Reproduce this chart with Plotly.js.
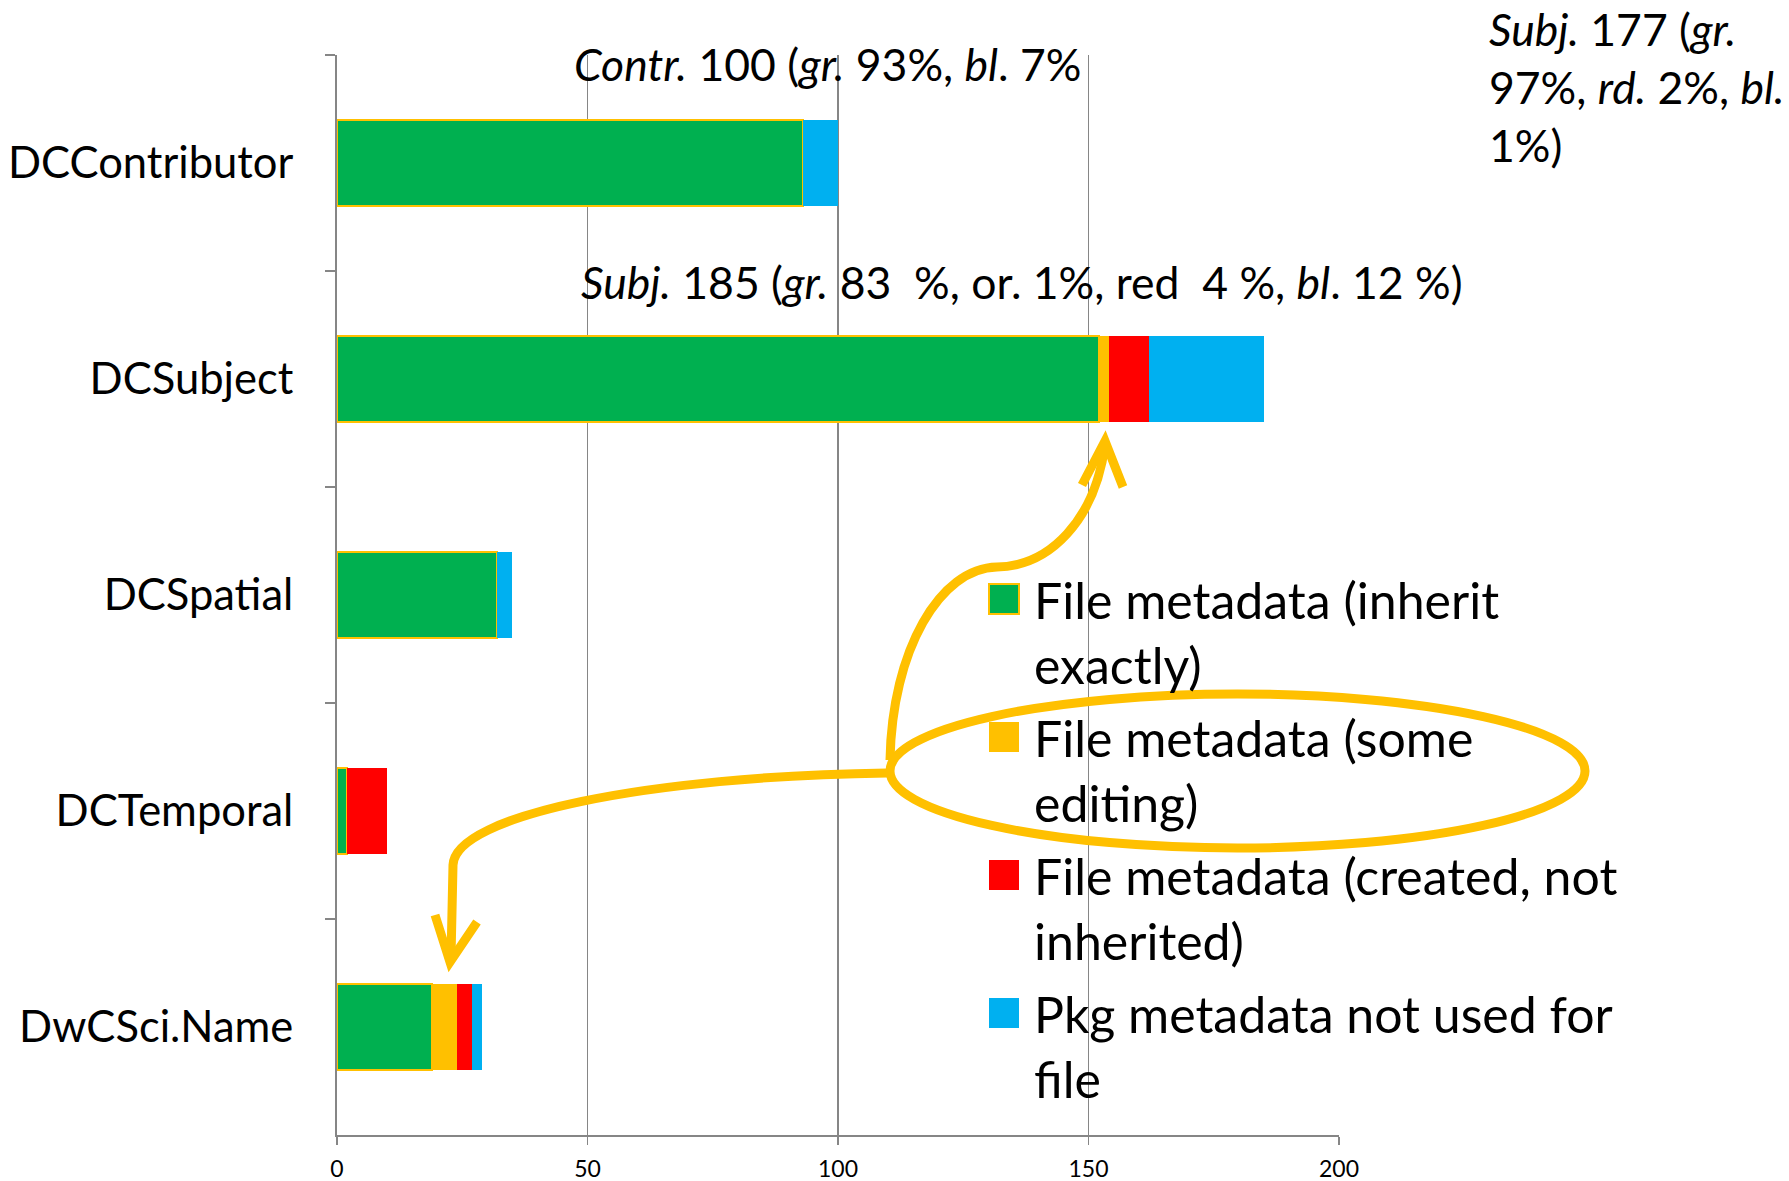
<!DOCTYPE html>
<html><head><meta charset="utf-8">
<script src="https://cdn.plot.ly/plotly-3.0.1.min.js"></script>
<style>html,body{margin:0;padding:0;background:#fff}</style>
</head><body>
<div id="chart" style="width:1789px;height:1181px"></div>
<script>
// ---- data ----
const categories = ['DCContributor', 'DCSubject', 'DCSpatial', 'DCTemporal', 'DwCSci.Name'];
const inheritExactly = [93, 152, 32, 2, 19];
const someEditing = [0, 2, 0, 0, 5];
const createdNotInherited = [0, 8, 0, 8, 3];
const pkgNotUsed = [7, 23, 3, 0, 2];
const seriesNames = [
  'File metadata (inherit<br>exactly)',
  'File metadata (some<br>editing)',
  'File metadata (created, not<br>inherited)',
  'Pkg metadata not used for<br>file'
];
const seriesColors = ['#00B050', '#FFC000', '#FF0000', '#00B0F0'];
const xTickVals = [0, 50, 100, 150, 200];
const noteContr = '<i>Contr.</i> 100 (<i>gr.</i> 93%, <i>bl</i>. 7%';
const noteSubj185 = '<i>Subj.</i> 185 (<i>gr.</i> 83  %, or. 1%, red  4 %, <i>bl</i>. 12 %)';
const noteSubj177 = '<i>Subj.</i> 177 (<i>gr.</i><br>97%, <i>rd.</i> 2%, <i>bl.</i><br>1%)';

// ---- geometry helpers ----
const W = 1789, H = 1181, L = 337, R = 450, T = 55, B = 46;
const pw = W - L - R, ph = H - T - B;
const px = x => ((x - L) / pw);
const py = y => ((H - B - y) / ph);
function path(cmds) {
  return cmds.map(c => c[0] + ' ' + c.slice(1).map((v, i) => (i % 2 === 0 ? px(v) : py(v)).toFixed(5)).join(',')).join(' ');
}

const FONT = 'Lato, "Open Sans", sans-serif';
const seriesValues = [inheritExactly, someEditing, createdNotInherited, pkgNotUsed];

const traces = seriesValues.map((vals, i) => ({
  type: 'bar',
  orientation: 'h',
  name: seriesNames[i],
  legendgroup: 'g' + i,
  y: categories,
  x: vals,
  marker: {
    color: seriesColors[i],
    line: i === 0 ? {color: '#FFC000', width: 2} : {color: seriesColors[i], width: 0}
  },
  hoverinfo: 'none'
}));

const gold = '#FFC000';
const lw = 9;
const shapes = [
  {type: 'circle', xref: 'paper', yref: 'paper', x0: px(890), x1: px(1585), y0: py(848), y1: py(694),
   line: {color: gold, width: lw}},
  {type: 'path', xref: 'paper', yref: 'paper',
   path: path([['M', 890, 760], ['C', 892, 650, 940, 568, 997, 567], ['C', 1050, 566, 1095, 520, 1105, 445]]),
   line: {color: gold, width: lw}},
  {type: 'path', xref: 'paper', yref: 'paper',
   path: path([['M', 1082, 485], ['L', 1105, 441], ['L', 1123, 487]]),
   line: {color: gold, width: lw}},
  {type: 'path', xref: 'paper', yref: 'paper',
   path: path([['M', 887, 773], ['C', 650, 776, 455, 815, 453, 865], ['L', 451, 958]]),
   line: {color: gold, width: lw}},
  {type: 'path', xref: 'paper', yref: 'paper',
   path: path([['M', 435, 915], ['L', 450, 962], ['L', 477, 922]]),
   line: {color: gold, width: lw}}
];

const annoFont = {family: FONT, size: 44.5, color: '#000'};
const annotations = [
  {xref: 'paper', yref: 'paper', x: px(572), y: py(64), xanchor: 'left', yanchor: 'middle',
   text: noteContr, showarrow: false, font: annoFont},
  {xref: 'paper', yref: 'paper', x: px(579), y: py(281), xanchor: 'left', yanchor: 'middle',
   text: noteSubj185, showarrow: false, font: annoFont},
  {xref: 'paper', yref: 'paper', x: px(1487), y: py(0), xanchor: 'left', yanchor: 'top', align: 'left',
   text: noteSubj177, showarrow: false, font: annoFont}
];

const layout = {
  width: W, height: H,
  margin: {l: L, r: R, t: T, b: B},
  paper_bgcolor: '#fff', plot_bgcolor: '#fff',
  barmode: 'stack',
  bargap: 0.6,
  showlegend: true,
  legend: {
    x: px(974), y: py(560), xanchor: 'left', yanchor: 'top',
    font: {family: FONT, size: 50, color: '#000'},
    bgcolor: 'rgba(0,0,0,0)', borderwidth: 0,
    traceorder: 'grouped', valign: 'top', tracegroupgap: 5, itemwidth: 50
  },
  xaxis: {
    range: [0, 200], tickvals: xTickVals, ticktext: xTickVals.map(String),
    showgrid: true, gridcolor: '#868686', gridwidth: 1.5,
    showline: true, linecolor: '#868686', linewidth: 2,
    ticks: 'outside', ticklen: 8, tickcolor: '#868686', tickwidth: 1.5,
    tickfont: {family: FONT, size: 23, color: '#000'},
    zeroline: false, fixedrange: true, ticklabelstandoff: 4
  },
  yaxis: {
    type: 'category', autorange: 'reversed',
    showgrid: false, showline: true, linecolor: '#868686', linewidth: 2,
    ticks: 'outside', tickson: 'boundaries', ticklen: 10, tickcolor: '#868686', tickwidth: 1.5,
    tickfont: {family: FONT, size: 43.5, color: '#000'},
    ticklabelstandoff: 33, zeroline: false, fixedrange: true
  },
  shapes: shapes,
  annotations: annotations,
  hovermode: false
};

Plotly.newPlot('chart', traces, layout, {displayModeBar: false, staticPlot: true}).then(gd => {
  // enlarge legend swatches to the square markers of the original
  document.querySelectorAll('#chart .legendpoints path').forEach(p => {
    p.setAttribute('d', 'M15,15H-15V-15H15Z');
  });
});
</script>
</body></html>
